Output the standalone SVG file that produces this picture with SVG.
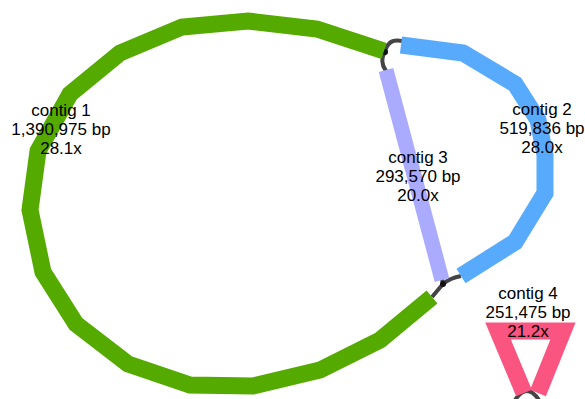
<svg xmlns="http://www.w3.org/2000/svg" width="585" height="399" viewBox="0 0 585 399">
<style>
.seg{fill:none;stroke-linejoin:miter;stroke-linecap:butt}
.link{fill:none;stroke:#444;stroke-width:4}
.dot{fill:#111}
text{font-family:"Liberation Sans",Arial,sans-serif;font-size:17px;fill:#000;text-anchor:middle}
</style>
<rect width="585" height="399" fill="#fff"/>
<g id="connectors">
<path class="link" d="M385,52 Q388,38 402,41"/>
<path class="link" d="M385,52 Q379,61 386,71"/>
<path class="link" d="M432,297 L443,284 Q450,278 461,276"/>
<path class="link" d="M443,284 L442,279"/>
<path class="link" d="M515,400 Q527,382 539,400"/>
<circle class="dot" cx="385" cy="52" r="3"/>
<circle class="dot" cx="443" cy="284" r="3"/>
</g>
<g id="contig1">
<polyline class="seg" stroke="#55aa00" stroke-width="17" points="384,51 317,29 248,21 182,27 120,53 70,94 38,151 30,210 43,272 76,324 128,364 190,385 253,386 320,370 380,340 432,297"/>
<text x="61" y="116">contig 1</text>
<text x="61" y="135">1,390,975 bp</text>
<text x="61" y="154">28.1x</text>
</g>
<g id="contig2">
<polyline class="seg" stroke="#58aafc" stroke-width="17" points="401,45 463,53 515,84 538,120 545,155 545,193 515,242 461,276"/>
<text x="542" y="115">contig 2</text>
<text x="542" y="134">519,836 bp</text>
<text x="542" y="153">28.0x</text>
</g>
<g id="contig3">
<line class="seg" stroke="#aaaaff" stroke-width="15" x1="386" y1="70" x2="442" y2="280"/>
<text x="418" y="163">contig 3</text>
<text x="418" y="182">293,570 bp</text>
<text x="418" y="201">20.0x</text>
</g>
<g id="contig4">
<polyline class="seg" stroke="#fa5580" stroke-width="17" stroke-linejoin="round" points="524,393 498,331 563,331 538,393"/>
<text x="528" y="299">contig 4</text>
<text x="528" y="318">251,475 bp</text>
<text x="528" y="337">21.2x</text>
</g>
</svg>
